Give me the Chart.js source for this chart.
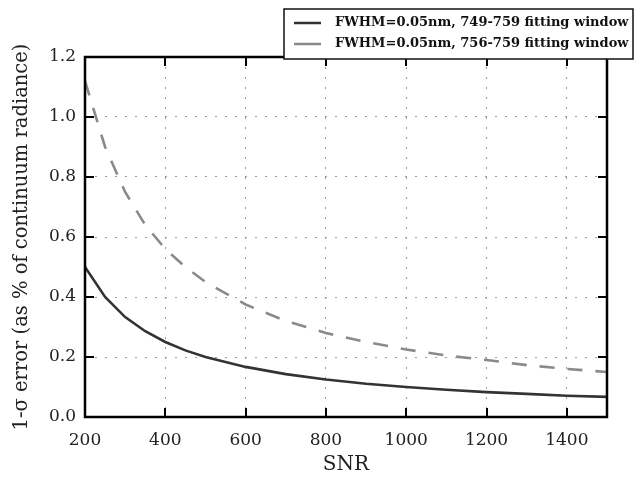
<!DOCTYPE html>
<html>
<head>
<meta charset="utf-8">
<script src="https://cdn.jsdelivr.net/npm/chart.js@4.4.1/dist/chart.umd.min.js"></script>
<style>
  html, body { margin: 0; padding: 0; background: #fff; }
</style>
</head>
<body>
<canvas id="myChart" width="643" height="477"></canvas>
<script>
// values
const snr = [200, 250, 300, 350, 400, 450, 500, 600, 700, 800, 900, 1000, 1100, 1200, 1300, 1400, 1500];
const error749 = [0.50, 0.40, 0.333, 0.286, 0.25, 0.222, 0.20, 0.167, 0.143, 0.125, 0.111, 0.10, 0.091, 0.083, 0.077, 0.071, 0.067];
const error756 = [1.12, 0.90, 0.75, 0.64, 0.56, 0.50, 0.45, 0.375, 0.32, 0.28, 0.25, 0.225, 0.205, 0.19, 0.173, 0.16, 0.15];
const seriesLabels = ['FWHM=0.05nm, 749-759 fitting window', 'FWHM=0.05nm, 756-759 fitting window'];
const xTicks = [200, 400, 600, 800, 1000, 1200, 1400];
const yTicks = [0, 0.2, 0.4, 0.6, 0.8, 1.0, 1.2];

const SERIF = '"DejaVu Serif", "Liberation Serif", serif';
const solidColor = '#333333';
const dashColor = '#8a8a8a';

document.addEventListener("DOMContentLoaded", function () {
    const ctx = document.getElementById('myChart').getContext('2d');

    // frame round the plot, inward tick marks and the boxed legend
    const framePlugin = {
        id: 'frame',
        afterDraw(chart) {
            const c = chart.ctx;
            const a = chart.chartArea;
            const xs = chart.scales.x, ys = chart.scales.y;
            c.save();
            c.strokeStyle = '#000';
            c.lineWidth = 2;
            c.beginPath();
            xTicks.forEach(v => {
                const px = Math.round(xs.getPixelForValue(v));
                c.moveTo(px, a.bottom); c.lineTo(px, a.bottom - 9);
                c.moveTo(px, a.top); c.lineTo(px, a.top + 9);
            });
            yTicks.forEach(v => {
                const py = Math.round(ys.getPixelForValue(v));
                c.moveTo(a.left, py); c.lineTo(a.left + 9, py);
                c.moveTo(a.right, py); c.lineTo(a.right - 9, py);
            });
            c.stroke();
            c.lineWidth = 2.5;
            c.strokeRect(a.left, a.top, a.right - a.left, a.bottom - a.top);

            // legend
            const lx = 284, ly = 9, lw = 349, lh = 50;
            c.fillStyle = '#fff';
            c.fillRect(lx, ly, lw, lh);
            c.lineWidth = 1.5;
            c.strokeStyle = '#111';
            c.strokeRect(lx, ly, lw, lh);
            const rows = [ly + 14, ly + 35];
            const colors = [solidColor, dashColor];
            c.font = 'bold 13px ' + SERIF;
            c.textBaseline = 'middle';
            rows.forEach((y, i) => {
                c.strokeStyle = colors[i];
                c.lineWidth = 2.5;
                c.beginPath();
                c.moveTo(lx + 10, y); c.lineTo(lx + 37, y);
                c.stroke();
                c.fillStyle = '#111';
                c.fillText(seriesLabels[i], lx + 51, y);
            });
            c.restore();
        }
    };

    new Chart(ctx, {
        type: 'line',
        data: {
            datasets: [{
                label: seriesLabels[0],
                data: snr.map((s, i) => ({ x: s, y: error749[i] })),
                borderColor: solidColor,
                borderWidth: 2.6,
                pointRadius: 0,
                tension: 0,
                fill: false
            }, {
                label: seriesLabels[1],
                data: snr.map((s, i) => ({ x: s, y: error756[i] })),
                borderColor: dashColor,
                borderWidth: 2.6,
                borderDash: [15, 13],
                pointRadius: 0,
                tension: 0,
                fill: false
            }]
        },
        options: {
            responsive: false,
            animation: false,
            devicePixelRatio: 1,
            layout: { padding: { left: 0, right: 36, top: 57, bottom: 0 } },
            plugins: {
                legend: { display: false },
                tooltip: { enabled: false }
            },
            scales: {
                x: {
                    type: 'linear',
                    min: 200,
                    max: 1500,
                    afterBuildTicks: s => { s.ticks = xTicks.map(v => ({ value: v })); },
                    afterFit: s => { s.height = 60; },
                    grid: { color: '#9a9a9a', lineWidth: 1, drawTicks: false },
                    border: { display: false, dash: [2, 8] },
                    ticks: {
                        padding: 13,
                        color: '#222',
                        font: { family: SERIF, size: 17 },
                        callback: v => String(v)
                    },
                    title: {
                        display: true,
                        text: 'SNR',
                        color: '#222',
                        font: { family: SERIF, size: 20 },
                        padding: { top: 0, bottom: 0 }
                    }
                },
                y: {
                    type: 'linear',
                    min: 0,
                    max: 1.2,
                    afterBuildTicks: s => { s.ticks = yTicks.map(v => ({ value: v })); },
                    afterFit: s => { s.width = 85; },
                    grid: { color: '#9a9a9a', lineWidth: 1, drawTicks: false },
                    border: { display: false, dash: [2, 8] },
                    ticks: {
                        padding: 9,
                        color: '#222',
                        font: { family: SERIF, size: 17 },
                        callback: v => Number(v).toFixed(1)
                    },
                    title: {
                        display: true,
                        text: '1-σ error (as % of continuum radiance)',
                        color: '#222',
                        font: { family: SERIF, size: 19.5 },
                        padding: { top: 10, bottom: 0 }
                    }
                }
            }
        },
        plugins: [framePlugin]
    });
});
</script>
</body>
</html>
